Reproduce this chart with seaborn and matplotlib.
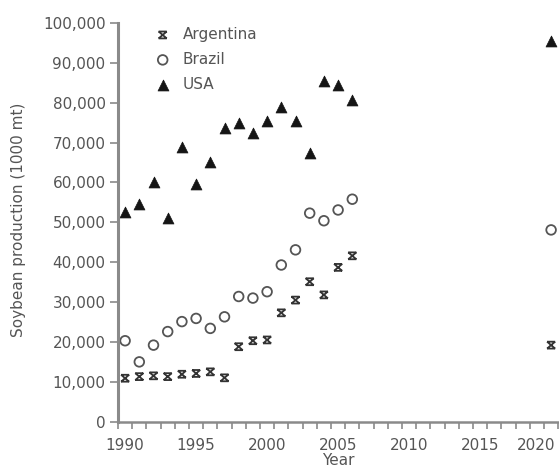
import numpy as np
import pandas as pd
import matplotlib
matplotlib.use('Agg')
import matplotlib.pyplot as plt
from matplotlib.path import Path
from matplotlib.ticker import FixedLocator, FuncFormatter
import seaborn as sns

# Soybean production, 1000 mt
years = list(range(1990, 2007)) + [2020]
argentina = [10900, 11300, 11500, 11300, 11900, 12100, 12500, 11000, 18800, 20300, 20500,
             27300, 30500, 35100, 31800, 38700, 41600, 19200]
brazil = [20300, 15000, 19200, 22600, 25100, 25900, 23400, 26300, 31400, 31000, 32600,
          39300, 43100, 52300, 50400, 53100, 55800, 48100]
usa = [52700, 54600, 60200, 51000, 69000, 59500, 65200, 73700, 75000, 72500, 75500,
       79000, 75500, 67400, 85500, 84500, 80700, 95400]
countries = ['Argentina', 'Brazil', 'USA']
x_tick_labels = [1990, 1995, 2000, 2005, 2010, 2015, 2020]
y_ticks = list(range(0, 100001, 10000))

df = pd.DataFrame({
    'Year': years * 3,
    'Production': argentina + brazil + usa,
    'Country': [c for c in countries for _ in years],
})

sns.set_theme(style='ticks')
plt.rcParams['font.family'] = ['DejaVu Sans']

fig = plt.figure(figsize=(5.59, 4.70), dpi=100)
ax = fig.add_axes([0.2111, 0.1028, 0.789, 0.8483])

# hourglass-like cross used for Argentina
hour = Path([(-1, 0.85), (1, -0.85), (1, 0.85), (-1, -0.85), (-1, 0.85), (1, 0.85),
             (-1, -0.85), (1, -0.85)],
            [Path.MOVETO, Path.LINETO, Path.MOVETO, Path.LINETO,
             Path.MOVETO, Path.LINETO, Path.MOVETO, Path.LINETO])

styles = {
    'Argentina': dict(marker=hour, s=34, facecolor='none', edgecolor='#333333', linewidth=1.3),
    'Brazil': dict(marker='o', s=48, facecolor='none', edgecolor='#555555', linewidth=1.3),
    'USA': dict(marker='^', s=62, color='#151515', edgecolor='#151515', linewidth=0.5),
}
for c in countries:
    sub = df[df['Country'] == c]
    sns.scatterplot(data=sub, x='Year', y='Production', ax=ax, label=c,
                    clip_on=False, **styles[c])

ax.set_xlim(1989.5, 2020.56)
ax.set_ylim(0, 100000)

grey = '#555555'

# last year label sits at the right edge, so it is drawn right-aligned
ax.xaxis.set_major_locator(FixedLocator(x_tick_labels[:-1]))
ax.annotate(str(x_tick_labels[-1]), xy=(x_tick_labels[-1], 0),
            xycoords=('data', 'axes fraction'), xytext=(3, -12),
            textcoords='offset points', ha='right', va='top',
            fontsize=11, color=grey)
ax.xaxis.set_minor_locator(FixedLocator(np.arange(1989.5, 2021, 1.0)))
ax.yaxis.set_major_locator(FixedLocator(y_ticks))
ax.yaxis.set_major_formatter(FuncFormatter(lambda v, p: f'{int(v):,}'))

ax.tick_params(axis='x', which='major', length=0, pad=12, labelsize=11, labelcolor=grey)
ax.tick_params(axis='x', which='minor', length=5, width=1.2, color='#8a8a8a')
ax.tick_params(axis='y', length=6, width=1.2, color='#8a8a8a', pad=3,
               labelsize=11, labelcolor=grey)

sns.despine(ax=ax)
ax.spines['left'].set_color('#8a8a8a')
ax.spines['left'].set_linewidth(2.2)
ax.spines['bottom'].set_color('#8a8a8a')
ax.spines['bottom'].set_linewidth(1.8)

ax.set_xlabel('Year', fontsize=11, color=grey, va='top')
ax.xaxis.set_label_coords(0.5, -0.079)
ax.set_ylabel('Soybean production (1000 mt)', fontsize=11, color=grey)
ax.yaxis.set_label_coords(-0.209, 0.506)

leg = ax.legend(loc='upper left', bbox_to_anchor=(0.084, 0.99), frameon=False,
                fontsize=11, handlelength=1.0, handletextpad=0.8, labelspacing=0.65,
                borderpad=0, borderaxespad=0, scatterpoints=1)
for t in leg.get_texts():
    t.set_color(grey)

fig.savefig('out.png', dpi=100)
